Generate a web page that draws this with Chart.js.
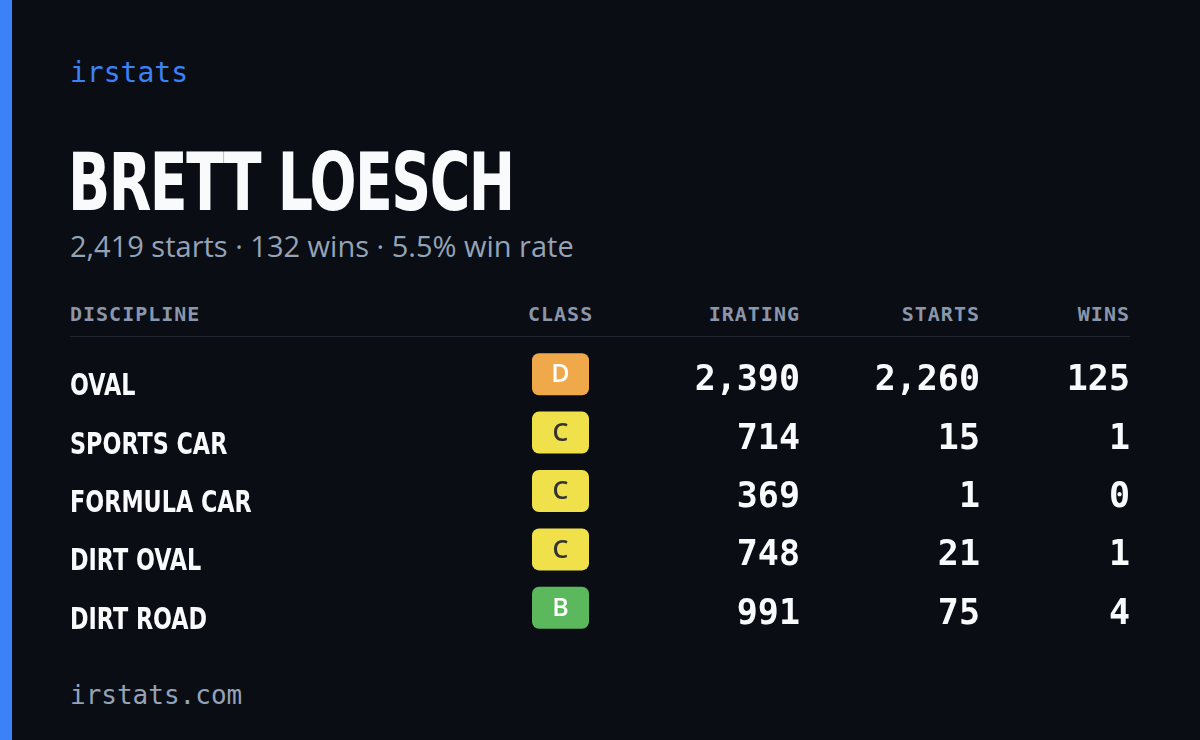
<!DOCTYPE html>
<html><head><meta charset="utf-8">
<script src="https://cdn.jsdelivr.net/npm/chart.js@4/dist/chart.umd.min.js"></script>
<style>
html,body{margin:0;padding:0;background:#0a0d14;width:1200px;height:740px;overflow:hidden}
#bar{position:absolute;left:0;top:0;width:12px;height:740px;background:#3b82f6}
.t{position:absolute;white-space:nowrap}
.mono{font-family:"DejaVu Sans Mono",monospace}
.cond{font-family:"DejaVu Sans Condensed","Liberation Sans Narrow","DejaVu Sans",sans-serif;font-stretch:condensed;font-weight:bold}
.h{top:302px;font-size:20px;color:#8a96aa;letter-spacing:1px;font-weight:bold}
#c{position:absolute;left:0;top:0;width:1200px;height:740px}
</style></head><body>
<div id="bar"></div>
<div class="t mono" style="left:70px;top:56px;font-size:28px;color:#3b82f6">irstats</div>
<div class="t cond" style="left:68px;top:136px;font-size:80px;color:#f8fafc;letter-spacing:-2px;transform:scaleX(0.77);transform-origin:left">BRETT LOESCH</div>
<div class="t" style="left:70px;top:226px;font-size:29px;color:#94a3b8;font-family:'Open Sans',sans-serif">2,419 starts · 132 wins · 5.5% win rate</div>
<div class="t mono h" style="left:70px">DISCIPLINE</div>
<div class="t mono h" style="left:528px">CLASS</div>
<div class="t mono h" style="right:400px">IRATING</div>
<div class="t mono h" style="right:220px">STARTS</div>
<div class="t mono h" style="right:70px">WINS</div>
<div class="t" style="left:70px;top:336px;width:1060px;height:1px;background:#1e2430"></div>
<div class="t mono" style="left:70px;top:680px;font-size:26px;color:#94a3b8">irstats.com</div>
<canvas id="c" width="1200" height="740"></canvas>
<script>
const disciplines=["OVAL","SPORTS CAR","FORMULA CAR","DIRT OVAL","DIRT ROAD"];
const classes=["D","C","C","C","B"];
const iratings=[2390,714,369,748,991];
const starts=[2260,15,1,21,75];
const wins=[125,1,0,1,4];
const classColors={D:"#efa94a",C:"#f0e14a",B:"#5cb85c"};
const fmt=v=>v.toLocaleString("en-US");
const tablePlugin={id:"table",afterDatasetsDraw(chart){
  const ctx=chart.ctx,y=chart.scales.y;
  ctx.save();
  disciplines.forEach((d,i)=>{
    const cy=y.getPixelForValue(i);
    ctx.fillStyle="#f8fafc";
    ctx.font="bold 31px 'DejaVu Sans Condensed','Liberation Sans Narrow',sans-serif";
    ctx.textBaseline="middle";ctx.textAlign="left";
    ctx.save();ctx.translate(70,cy+9);ctx.scale(0.8,1);ctx.fillText(d,0,0);ctx.restore();
    const c=classes[i];
    ctx.fillStyle=classColors[c];
    ctx.beginPath();ctx.roundRect(532,cy-25,57,42,7);ctx.fill();
    ctx.fillStyle=c==="C"?"#333":"#fff";
    ctx.font="600 25px 'Open Sans',sans-serif";ctx.textAlign="center";
    ctx.fillText(c,560.5,cy-3);
    ctx.fillStyle="#f8fafc";ctx.font="bold 35px 'DejaVu Sans Mono',monospace";ctx.textAlign="right";
    ctx.fillText(fmt(iratings[i]),800,cy+3);
    ctx.fillText(fmt(starts[i]),980,cy+3);
    ctx.fillText(fmt(wins[i]),1130,cy+3);
  });
  ctx.restore();
}};
new Chart(document.getElementById("c"),{
  type:"bar",
  data:{labels:disciplines,datasets:[{data:iratings,backgroundColor:"rgba(0,0,0,0)"}]},
  options:{indexAxis:"y",responsive:false,maintainAspectRatio:false,animation:false,devicePixelRatio:1,
    layout:{padding:{top:349,bottom:99,left:0,right:0}},
    plugins:{legend:{display:false},tooltip:{enabled:false}},
    scales:{x:{display:false},y:{display:false}}},
  plugins:[tablePlugin]
});
</script>
</body></html>
